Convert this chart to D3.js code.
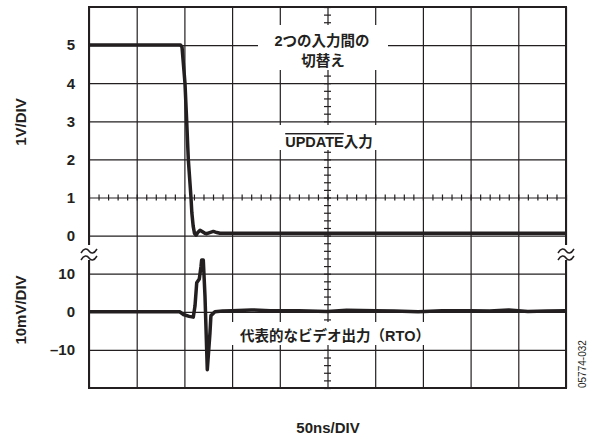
<!DOCTYPE html>
<html>
<head>
<meta charset="utf-8">
<script src="https://cdn.jsdelivr.net/npm/d3@7"></script>
<style>
body { margin: 0; background: #fff; }
text { font-family: "Liberation Sans", "Noto Sans CJK JP", sans-serif; fill: #231f20; }
</style>
</head>
<body>
<script>
// time axis, 50 ns per division
var timeTicks = d3.range(0, 501, 50);
var minorTime = d3.range(0, 501, 10);
// vertical tick labels
var voltTicks = [0, 1, 2, 3, 4, 5];
var mvTicks = [-10, 0, 10];

// UPDATE input trace (1V/DIV), t in ns
var updT = [0, 96, 97.5, 100.6, 102.4, 104.1, 106.9, 107.8, 109.2, 110.6, 112.2, 114, 116.4, 119, 121.5, 123.4, 126.5, 130.3, 134, 137.3, 300, 500];
var updV = [5.0, 5.0, 4.95, 4.0, 3.0, 2.0, 1.0, 0.6, 0.25, 0.06, 0.01, 0.08, 0.14, 0.1, 0.06, 0.05, 0.08, 0.11, 0.08, 0.06, 0.06, 0.06];

// video output trace (10mV/DIV)
var vidT = [0, 95, 99, 105, 109.3, 111.1, 112.9, 115.6, 117.4, 118.1, 119.8, 121.6, 124, 126.8, 127.8, 132, 140, 150, 170, 190, 220, 250, 270, 300, 320, 345, 370, 400, 420, 440, 460, 480, 500];
var vidMV = [0, 0, -0.7, -1.2, -1.4, 1.5, 7.6, 8.6, 11.9, 13.6, 13.6, 4, -15.2, -5.5, -1, 0, 0.2, 0.3, 0.5, 0.3, 0.3, 0.1, 0.4, 0.3, 0.2, 0, 0.3, 0.3, 0.2, 0.45, 0.1, 0.2, 0.3];

var margin = {top: 7, left: 89},
    width = 477,
    height = 381;

var svg = d3.select("body").append("svg")
    .attr("width", 592)
    .attr("height", 439);

var g = svg.append("g")
    .attr("transform", "translate(" + margin.left + "," + margin.top + ")");

// scales
var x = d3.scaleLinear().domain([0, 500]).range([0, width]);
var yDiv = d3.scaleLinear().domain([0, 10]).range([height, 0]);
var yV = d3.scaleLinear().domain([0, 6]).range([yDiv(4), yDiv(10)]);
var yMV = d3.scaleLinear().domain([-20, 20]).range([yDiv(0), yDiv(4)]);

// grid
g.append("g")
    .attr("class", "grid")
    .attr("transform", "translate(0," + height + ")")
    .call(d3.axisBottom(x).tickValues(timeTicks).tickSize(-height).tickFormat(""));
g.append("g")
    .attr("class", "grid")
    .call(d3.axisLeft(yDiv).tickValues(d3.range(0, 11)).tickSize(-width).tickFormat(""));
g.selectAll(".grid .domain").remove();
g.selectAll(".grid line").attr("stroke", "#231f20").attr("stroke-width", 1.2);

// minor ticks on the centre lines
g.append("g")
    .attr("class", "minor")
    .attr("transform", "translate(0," + (yDiv(5) - 3) + ")")
    .call(d3.axisBottom(x).tickValues(minorTime).tickSize(6).tickFormat(""));
g.append("g")
    .attr("class", "minor")
    .attr("transform", "translate(" + (x(250) - 3.5) + ",0)")
    .call(d3.axisRight(yDiv).tickValues(d3.range(0, 10.01, 0.2)).tickSize(7).tickFormat(""));
g.selectAll(".minor .domain").remove();
g.selectAll(".minor line").attr("stroke", "#231f20").attr("stroke-width", 1.2);

// frame
g.append("rect")
    .attr("width", width)
    .attr("height", height)
    .attr("fill", "none")
    .attr("stroke", "#231f20")
    .attr("stroke-width", 2);

// white boxes behind the in-plot labels
var boxes = [[258, 25, 130, 45], [272, 125, 112, 25], [228, 322, 214, 23]];
svg.selectAll(".box").data(boxes).enter().append("rect")
    .attr("x", function(d) { return d[0]; })
    .attr("y", function(d) { return d[1]; })
    .attr("width", function(d) { return d[2]; })
    .attr("height", function(d) { return d[3]; })
    .attr("fill", "#fff");

// traces
var lineV = d3.line()
    .x(function(d, i) { return x(updT[i]); })
    .y(function(d) { return yV(d); });
var lineMV = d3.line()
    .x(function(d, i) { return x(vidT[i]); })
    .y(function(d) { return yMV(d); });

g.append("path")
    .attr("d", lineV(updV))
    .attr("fill", "none")
    .attr("stroke", "#231f20")
    .attr("stroke-width", 3.5)
    .attr("stroke-linejoin", "round");
g.append("path")
    .attr("d", lineMV(vidMV))
    .attr("fill", "none")
    .attr("stroke", "#231f20")
    .attr("stroke-width", 3.5)
    .attr("stroke-linejoin", "round");

// y tick labels
var fmt = function(d) { return d < 0 ? "\u2013" + Math.abs(d) : d; };
g.append("g").attr("class", "lab")
    .call(d3.axisLeft(yV).tickValues(voltTicks).tickSize(0).tickPadding(14).tickFormat(fmt));
g.append("g").attr("class", "lab")
    .call(d3.axisLeft(yMV).tickValues(mvTicks).tickSize(0).tickPadding(14).tickFormat(fmt));
g.selectAll(".lab .domain").remove();
g.selectAll(".lab text")
    .style("font-family", "'Liberation Sans', sans-serif")
    .style("font-size", "15px")
    .style("font-weight", "bold")
    .attr("fill", "#231f20");

// break marks
[margin.left, margin.left + width].forEach(function(bx) {
  svg.append("rect")
      .attr("x", bx - 2).attr("y", 245).attr("width", 4).attr("height", 15)
      .attr("fill", "#fff");
  [-3.5, 3.5].forEach(function(dy) {
    svg.append("path")
        .attr("d", "M" + (bx - 8) + "," + (254.5 + dy + 2) + " c3,-5 6,-5 8,-2 s5,3 8,-2")
        .attr("fill", "none")
        .attr("stroke", "#231f20")
        .attr("stroke-width", 1.5);
  });
});

// axis titles
svg.append("text")
    .attr("transform", "translate(26,122) rotate(-90)")
    .attr("text-anchor", "middle")
    .style("font-size", "15px").style("font-weight", "bold")
    .text("1V/DIV");
svg.append("text")
    .attr("transform", "translate(26,310) rotate(-90)")
    .attr("text-anchor", "middle")
    .style("font-size", "15px").style("font-weight", "bold")
    .text("10mV/DIV");
svg.append("text")
    .attr("x", 328).attr("y", 433)
    .attr("text-anchor", "middle")
    .style("font-size", "15px").style("font-weight", "bold")
    .text("50ns/DIV");
svg.append("text")
    .attr("transform", "translate(586,388) rotate(-90)")
    .attr("text-anchor", "start")
    .style("font-size", "10px")
    .text("05774-032");

// in-plot labels
svg.append("text")
    .attr("x", 322).attr("y", 46)
    .attr("text-anchor", "middle")
    .style("font-size", "14.5px").style("font-weight", "bold")
    .text("2つの入力間の");
svg.append("text")
    .attr("x", 323).attr("y", 66)
    .attr("text-anchor", "middle")
    .style("font-size", "14.5px").style("font-weight", "bold")
    .text("切替え");
var upd = svg.append("text")
    .attr("x", 329).attr("y", 147)
    .attr("text-anchor", "middle")
    .style("font-size", "14.5px").style("font-weight", "bold");
upd.append("tspan").style("text-decoration", "overline").text("UPDATE");
upd.append("tspan").text("入力");
svg.append("text")
    .attr("x", 335).attr("y", 341)
    .attr("text-anchor", "middle")
    .style("font-size", "14.5px").style("font-weight", "bold")
    .text("代表的なビデオ出力（RTO）");
</script>
</body>
</html>
